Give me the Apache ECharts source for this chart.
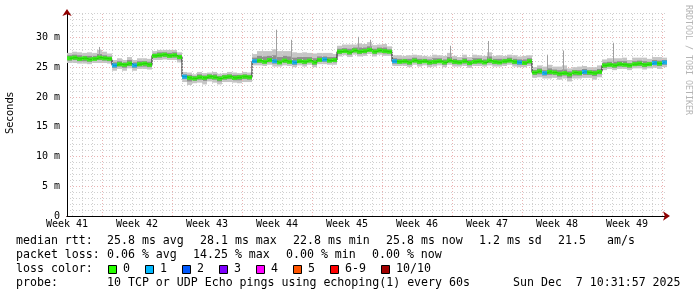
<!DOCTYPE html>
<html><head><meta charset="utf-8">
<script src="https://cdn.jsdelivr.net/npm/echarts@6/dist/echarts.min.js"></script>
<style>html,body{margin:0;padding:0;background:#fff}#c{width:697px;height:297px}</style>
</head><body><div id="c"></div>
<script>
// ---------- data ----------
const weekLabels = ['Week 41','Week 42','Week 43','Week 44','Week 45','Week 46','Week 47','Week 48','Week 49'];
const sampleStartDay = 0.25;   // sample times (days from start of plot)
const sampleStepDays = 0.5;

// median RTT (ms), one value per half day
const medianRtt = [
  26.5,26.6,26.4,26.5,26.3,26.4,26.6,26.5,26.4,
  25.3,25.5,25.4,25.6,25.3,25.5,25.6,25.4,
  26.9,27.0,27.1,26.9,27.0,26.7,
  23.4,23.2,23.1,23.3,23.2,23.4,23.3,23.1,23.3,23.4,23.2,23.3,23.4,23.3,
  26.0,26.1,25.9,26.2,26.0,25.8,26.1,25.9,25.8,26.0,25.9,26.1,25.8,26.2,26.3,26.1,26.2,
  27.6,27.7,27.5,27.8,27.6,27.7,27.9,27.6,27.8,27.7,27.6,
  26.0,25.9,26.0,25.8,26.1,25.9,26.0,25.8,25.9,26.0,25.8,26.1,25.9,25.8,26.0,25.7,25.9,26.0,25.8,26.1,25.9,25.8,26.0,26.1,25.9,25.8,25.7,26.0,
  24.1,24.3,24.0,24.2,24.1,23.9,24.0,23.8,24.1,24.0,24.2,24.1,24.0,24.2,
  25.3,25.4,25.3,25.5,25.4,25.3,25.5,25.6,25.4,25.5,25.7,25.6,25.8
];
// smoke: spread above / below the median (ms)
const smokeOuterUp = [
  0.9,1.0,1.1,0.9,1.2,1.0,1.3,1.1,0.9,
  0.9,1.0,0.8,1.1,0.9,1.0,0.9,1.0,
  0.8,0.9,0.8,1.0,0.9,0.8,
  0.8,0.9,0.7,0.9,0.8,0.7,0.9,0.8,0.7,0.8,0.9,0.7,0.8,0.8,
  1.2,1.6,1.8,1.5,2.0,1.9,1.6,1.8,1.7,1.4,1.6,1.3,1.5,1.2,1.1,1.3,1.0,
  1.0,1.1,1.3,1.0,1.4,1.2,1.3,1.1,1.0,1.2,0.9,
  1.0,1.1,0.9,1.2,1.0,1.1,0.9,1.0,1.2,1.0,1.1,1.3,1.0,0.9,1.1,1.0,1.2,1.0,1.1,1.4,1.0,1.2,0.9,1.0,1.1,1.0,1.2,1.0,
  0.9,1.0,1.1,1.2,1.0,1.2,1.3,1.0,0.9,1.1,1.0,0.9,1.0,1.1,
  1.0,1.1,1.2,1.0,1.2,0.9,1.1,1.0,1.2,0.9,1.0,1.1,0.8
];
const smokeOuterDown = [
  0.8,0.9,0.8,0.9,0.8,0.7,0.9,0.8,0.8,
  0.9,0.8,1.0,0.8,0.9,0.8,0.9,0.8,
  0.7,0.8,0.8,0.7,0.8,0.9,
  0.9,1.2,0.8,0.9,1.1,0.8,0.9,1.0,0.8,0.9,0.8,1.0,0.9,0.8,
  0.7,0.8,0.7,0.8,0.9,0.7,0.8,0.7,0.8,0.7,0.8,0.7,0.8,0.7,0.8,0.7,0.8,
  0.8,0.7,0.8,0.7,0.8,0.8,0.7,0.8,0.7,0.8,0.7,
  0.8,0.7,0.8,0.8,0.7,0.8,0.7,0.8,0.8,0.7,0.8,0.7,0.8,0.7,0.8,0.8,0.7,0.8,0.7,0.8,0.8,0.7,0.8,0.7,0.8,0.8,0.7,0.8,
  0.9,1.0,0.9,1.1,0.9,1.0,0.9,1.2,1.0,0.9,1.0,0.9,1.1,0.9,
  0.8,0.7,0.8,0.8,0.7,0.8,0.7,0.8,0.8,0.7,0.8,0.9,0.8
];
const smokeInnerUp = [
  0.5,0.5,0.6,0.4,0.6,0.5,0.6,0.5,0.4,
  0.5,0.5,0.4,0.6,0.5,0.5,0.4,0.5,
  0.4,0.5,0.4,0.5,0.5,0.4,
  0.4,0.5,0.4,0.5,0.4,0.4,0.5,0.4,0.4,0.4,0.5,0.4,0.4,0.4,
  0.6,0.8,0.9,0.7,1.0,0.9,0.8,0.9,0.8,0.7,0.8,0.6,0.7,0.6,0.5,0.6,0.5,
  0.5,0.5,0.6,0.5,0.7,0.6,0.6,0.5,0.5,0.6,0.4,
  0.5,0.5,0.4,0.6,0.5,0.5,0.4,0.5,0.6,0.5,0.5,0.6,0.5,0.4,0.5,0.5,0.6,0.5,0.5,0.7,0.5,0.6,0.4,0.5,0.5,0.5,0.6,0.5,
  0.4,0.5,0.5,0.6,0.5,0.6,0.6,0.5,0.4,0.5,0.5,0.4,0.5,0.5,
  0.5,0.5,0.6,0.5,0.6,0.4,0.5,0.5,0.6,0.4,0.5,0.5,0.4
];
const smokeInnerDown = [
  0.4,0.4,0.4,0.5,0.4,0.3,0.4,0.4,0.4,
  0.4,0.4,0.5,0.4,0.4,0.4,0.5,0.4,
  0.3,0.4,0.4,0.3,0.4,0.4,
  0.4,0.6,0.4,0.4,0.5,0.4,0.4,0.5,0.4,0.4,0.4,0.5,0.4,0.4,
  0.3,0.4,0.3,0.4,0.4,0.3,0.4,0.3,0.4,0.3,0.4,0.3,0.4,0.3,0.4,0.3,0.4,
  0.4,0.3,0.4,0.3,0.4,0.4,0.3,0.4,0.3,0.4,0.3,
  0.4,0.3,0.4,0.4,0.3,0.4,0.3,0.4,0.4,0.3,0.4,0.3,0.4,0.3,0.4,0.4,0.3,0.4,0.3,0.4,0.4,0.3,0.4,0.3,0.4,0.4,0.3,0.4,
  0.4,0.5,0.4,0.5,0.4,0.5,0.4,0.6,0.5,0.4,0.5,0.4,0.5,0.4,
  0.4,0.3,0.4,0.4,0.3,0.4,0.3,0.4,0.4,0.3,0.4,0.4,0.4
];
// lost pings (of 10) per sample
const lossCount = [
  0,0,0,0,0,0,0,0,0,1,
  0,0,0,1,0,0,0,0,0,0,
  0,0,0,1,0,0,0,0,0,0,
  0,0,0,0,0,0,0,1,0,0,
  0,1,0,0,0,1,0,0,0,0,
  0,1,0,0,0,0,0,0,0,0,
  0,0,0,0,0,1,0,0,0,0,
  0,0,0,0,0,0,0,0,0,0,
  0,0,0,0,0,0,0,0,0,0,
  1,0,0,0,0,1,0,0,0,0,
  0,0,0,1,0,0,0,0,0,0,
  0,0,0,0,0,0,0,1,0,1
];
// isolated high pings (day, max ms)
const spikeDays = [3.2, 20.9, 22.4, 29.1, 30.3, 38.3, 42.1, 48.0, 49.6, 54.6];
const spikeTops = [28.4, 31.3, 29.6, 30.1, 29.6, 28.6, 29.4, 27.1, 27.8, 29.1];

const lossColorLabels = ['0','1','2','3','4','5','6-9','10/10'];
const lossColors = ['#26ff00','#00b8ff','#0059ff','#7e00ff','#ff00ff','#ff5500','#ff0000','#a10000'];

const statLine1 = ['median rtt:','25.8 ms avg','28.1 ms max','22.8 ms min','25.8 ms now','1.2 ms sd','21.5','am/s'];
const statLine2 = ['packet loss:','0.06 % avg','14.25 % max','0.00 % min','0.00 % now'];
const probeLine = ['probe:','10 TCP or UDP Echo pings using echoping(1) every 60s','Sun Dec  7 10:31:57 2025'];
const watermark = 'RRDTOOL / TOBI OETIKER';
const yAxisName = 'Seconds';

// ---------- layout ----------
const X_MIN = 0, X_MAX = 60, Y_MIN = 0, Y_MAX = 34.1;
const MONO = '"DejaVu Sans Mono", monospace';
const minorGrid = '#d0d0d0';
const majorGrid = '#e9b3b3';

const times = medianRtt.map((_, i) => sampleStartDay + i * sampleStepDays);
const smokeData = medianRtt.map((m, i) => [
  times[i], m - smokeOuterDown[i], m + smokeOuterUp[i], m - smokeInnerDown[i], m + smokeInnerUp[i]
]);
const medianData = medianRtt.map((m, i) => [times[i], m]);
const medianColored = medianRtt.map((m, i) => [times[i], m, lossCount[i]]);
const spikeData = spikeDays.map((d, i) => {
  const idx = Math.min(medianRtt.length - 1, Math.floor(d / sampleStepDays));
  return [d, medianRtt[idx], spikeTops[i]];
});
function lossColorIndex(n) { if (n <= 5) return n; if (n < 10) return 6; return 7; }

const minorXLines = [], majorXLines = [];
for (let d = 0.5; d < X_MAX; d += 1) minorXLines.push({ xAxis: d });
for (let d = 3.5; d < X_MAX; d += 7) majorXLines.push({ xAxis: d });

// legend graphics
const graphics = [];
const lineY = [241, 255, 269, 283];
function txt(x, y, t) {
  return { type: 'text', x: x, y: y, style: { text: t, font: '11.6px ' + MONO, fill: '#000', align: 'left', verticalAlign: 'middle', textAlign: 'left', textVerticalAlign: 'middle' } };
}
const l1x = [16, 107, 200, 293, 386, 479, 558, 607];
statLine1.forEach((t, i) => graphics.push(txt(l1x[i], lineY[0], t)));
const l2x = [16, 107, 193, 286, 372];
statLine2.forEach((t, i) => graphics.push(txt(l2x[i], lineY[1], t)));
graphics.push(txt(16, lineY[2], 'loss color:'));
const boxX = [109, 146, 183, 220, 257, 294, 331, 382];
lossColorLabels.forEach((t, i) => {
  graphics.push({ type: 'rect', shape: { x: boxX[i] - 0.5, y: 265.5, width: 8, height: 8 }, style: { fill: lossColors[i], stroke: '#000', lineWidth: 1 } });
  graphics.push(txt(boxX[i] + 14, lineY[2], t));
});
const l4x = [16, 107, 513];
probeLine.forEach((t, i) => graphics.push(txt(l4x[i], lineY[3], t)));
graphics.push({ type: 'text', x: 10, y: 113, rotation: Math.PI / 2, style: { text: yAxisName, font: '10px "DejaVu Sans"', fill: '#000', align: 'center', verticalAlign: 'middle', textAlign: 'center', textVerticalAlign: 'middle' } });
graphics.push({ type: 'text', x: 688.5, y: 60, rotation: -Math.PI / 2, style: { text: watermark, font: '8.3px ' + MONO, fill: '#b4b4b4', align: 'center', verticalAlign: 'middle', textAlign: 'center', textVerticalAlign: 'middle' } });

const chart = echarts.init(document.getElementById('c'), null, { renderer: 'canvas' });
chart.setOption({
  animation: false,
  backgroundColor: '#fff',
  grid: { left: 67, right: 30, top: 13, bottom: 81, containLabel: false },
  xAxis: [
    { type: 'value', min: X_MIN, max: X_MAX, position: 'bottom',
      axisLine: { show: true, onZero: false, symbol: ['none', 'arrow'], symbolSize: [7, 7], symbolOffset: [0, 3], lineStyle: { color: '#900000', width: 1 } },
      axisTick: { show: false }, axisLabel: { show: false }, splitLine: { show: false } },
    { type: 'value', min: X_MIN, max: X_MAX, interval: 7, position: 'bottom',
      axisLine: { show: true, onZero: false, lineStyle: { color: '#000', width: 1 } },
      axisTick: { show: false },
      axisLabel: { show: true, margin: 3, color: '#000', fontFamily: 'DejaVu Sans Mono', fontSize: 10, showMaxLabel: false,
        formatter: v => weekLabels[Math.round(v / 7)] || '' },
      splitLine: { show: false } }
  ],
  yAxis: [
    { type: 'value', min: Y_MIN, max: Y_MAX, interval: 1,
      axisLine: { show: true, onZero: false, symbol: ['none', 'arrow'], symbolSize: [7, 7], symbolOffset: [0, 4], lineStyle: { color: '#900000', width: 1 } },
      axisTick: { show: false }, axisLabel: { show: false },
      splitLine: { show: true, showMaxLine: false, showMinLine: false, lineStyle: { color: minorGrid, type: [1, 2], width: 1 } } },
    { type: 'value', min: Y_MIN, max: Y_MAX, interval: 5, position: 'left',
      axisLine: { show: true, onZero: false, lineStyle: { color: '#000', width: 1 } },
      axisTick: { show: false },
      axisLabel: { show: true, margin: 7, color: '#000', fontFamily: 'DejaVu Sans Mono', fontSize: 10, showMaxLabel: false,
        formatter: v => v === 0 ? '0' : v + ' m' },
      splitLine: { show: true, showMaxLine: false, showMinLine: false, lineStyle: { color: majorGrid, type: [1, 2], width: 1 } } }
  ],
  series: [
    { type: 'line', xAxisIndex: 0, yAxisIndex: 0, data: medianData, z: 1, silent: true, showSymbol: false,
      lineStyle: { opacity: 0 },
      markLine: { silent: true, symbol: ['none', 'none'], label: { show: false }, animation: false,
        data: [
          ...minorXLines.map(d => Object.assign({ lineStyle: { color: minorGrid, type: [1, 2], width: 1 } }, d)),
          ...majorXLines.map(d => Object.assign({ lineStyle: { color: majorGrid, type: [1, 2], width: 1 } }, d))
        ] } },
    { type: 'custom', xAxisIndex: 0, yAxisIndex: 0, data: smokeData, z: 2, silent: true,
      encode: { x: 0, y: [1, 2] },
      renderItem: (params, api) => {
        const t = api.value(0), h = sampleStepDays / 2;
        const a = api.coord([t - h, api.value(2)]), b = api.coord([t + h, api.value(1)]);
        const c = api.coord([t - h, api.value(4)]), d = api.coord([t + h, api.value(3)]);
        return { type: 'group', children: [
          { type: 'rect', shape: { x: a[0], y: a[1], width: b[0] - a[0], height: b[1] - a[1] }, style: { fill: '#c6c6c6' } },
          { type: 'rect', shape: { x: c[0], y: c[1], width: d[0] - c[0], height: d[1] - c[1] }, style: { fill: '#8f8f8f' } }
        ] };
      } },
    { type: 'custom', xAxisIndex: 0, yAxisIndex: 0, data: spikeData, z: 3, silent: true,
      encode: { x: 0, y: [1, 2] },
      renderItem: (params, api) => {
        const p0 = api.coord([api.value(0), api.value(1)]), p1 = api.coord([api.value(0), api.value(2)]);
        const x = Math.round(p0[0]) + 0.5;
        return { type: 'line', shape: { x1: x, y1: p0[1], x2: x, y2: p1[1] }, style: { stroke: '#a0a0a0', lineWidth: 1 } };
      } },
    { type: 'line', xAxisIndex: 0, yAxisIndex: 0, data: medianData, z: 4, silent: true, step: 'middle',
      showSymbol: false, lineStyle: { color: '#111', width: 1 } },
    { type: 'scatter', xAxisIndex: 0, yAxisIndex: 0, data: medianColored, z: 5, silent: true,
      symbol: 'rect', symbolSize: [5, 4],
      itemStyle: { color: p => lossColors[lossColorIndex(p.data[2])] } }
  ],
  graphic: graphics
});
</script>
</body></html>
